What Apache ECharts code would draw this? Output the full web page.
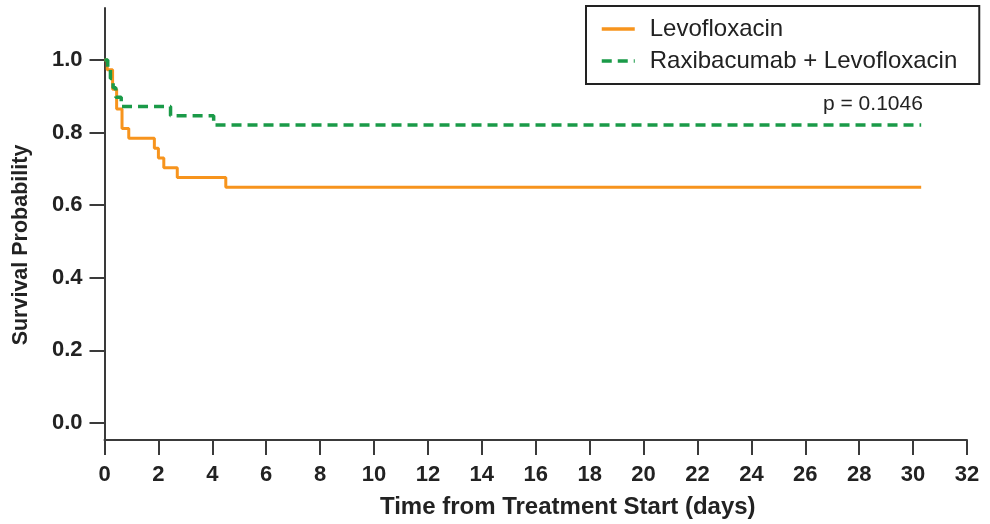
<!DOCTYPE html>
<html>
<head>
<meta charset="utf-8">
<script src="https://cdn.jsdelivr.net/npm/echarts@6/dist/echarts.min.js"></script>
<style>
html,body{margin:0;padding:0;background:#fff;}
#chart{width:990px;height:524px;}
</style>
</head>
<body>
<div id="chart"></div>
<script>
// Kaplan–Meier step data: [day, survival probability]
var levoTimes    = [0,   0.1,   0.3,   0.45,  0.65,  0.9,   1.85,  2.0,   2.2,   2.7,   4.5,   30.3];
var levoSurv     = [1.0, 0.973, 0.919, 0.865, 0.811, 0.784, 0.757, 0.730, 0.703, 0.676, 0.649, 0.649];
var raxiTimes    = [0,   0.12,  0.22,  0.32,  0.42,  0.62,  2.45,  4.05,  30.3];
var raxiSurv     = [1.0, 0.974, 0.949, 0.923, 0.897, 0.872, 0.846, 0.821, 0.821];
var seriesNames  = ['Levofloxacin', 'Raxibacumab + Levofloxacin'];
var yTicks       = [0, 0.2, 0.4, 0.6, 0.8, 1.0];
var pValueText   = 'p = 0.1046';

function pairs(t, s){ return t.map(function(v,i){ return [v, s[i]]; }); }

var chart = echarts.init(document.getElementById('chart'), null, {renderer:'canvas'});
var txt = '#222';
var axisCol = '#3a3a3a';
var font = 'Liberation Sans, Arial, Helvetica, sans-serif';

chart.setOption({
  animation:false,
  backgroundColor:'#fff',
  grid:{left:104.5, right:23, top:8, bottom:84, containLabel:false},
  legend:{
    orient:'vertical',
    left:586, top:6,
    padding:[9,22,9,14],
    itemGap:4,
    itemWidth:33, itemHeight:14,
    borderColor:'#222', borderWidth:2, borderRadius:0,
    itemStyle:{opacity:0},
    lineStyle:{width:3.5},
    textStyle:{fontFamily:font, fontSize:24, color:txt, padding:[0,0,0,10], lineHeight:28},
    data:seriesNames
  },
  xAxis:{
    type:'value', min:0, max:32, interval:2,
    name:'Time from Treatment Start (days)',
    nameLocation:'middle', nameGap:55,
    nameTextStyle:{fontFamily:font, fontSize:24, fontWeight:'bold', color:txt, padding:[0,0,0,64]},
    axisLine:{show:true, onZero:false, lineStyle:{color:axisCol, width:2}},
    axisTick:{show:true, length:15, lineStyle:{color:axisCol, width:2}},
    axisLabel:{fontFamily:font, fontSize:22, fontWeight:'bold', color:txt, margin:24},
    splitLine:{show:false}
  },
  yAxis:{
    type:'value', min:-0.047, max:1.143,
    name:'Survival Probability',
    nameLocation:'middle', nameGap:72, nameRotate:90,
    nameTextStyle:{fontFamily:font, fontSize:21.5, fontWeight:'bold', color:txt, padding:[0,42,0,0]},
    axisLine:{show:true, onZero:false, lineStyle:{color:axisCol, width:2}},
    axisTick:{show:true, length:15, customValues:yTicks, lineStyle:{color:axisCol, width:2}},
    axisLabel:{fontFamily:font, fontSize:22, fontWeight:'bold', color:txt, margin:22,
      customValues:yTicks, formatter:function(v){ return Number(v).toFixed(1); }},
    splitLine:{show:false}
  },
  graphic:[{
    type:'text', left:823, top:94,
    style:{text:pValueText, fontFamily:font, fontSize:21, fill:txt}
  }],
  series:[
    {
      name:seriesNames[0], type:'line', step:'end', symbol:'none',
      data:pairs(levoTimes, levoSurv),
      lineStyle:{color:'#F7941D', width:3},
      itemStyle:{color:'#F7941D'},
      z:3
    },
    {
      name:seriesNames[1], type:'line', step:'end', symbol:'none',
      data:pairs(raxiTimes, raxiSurv),
      lineStyle:{color:'#1A9A48', width:3.5, type:[10,6]},
      itemStyle:{color:'#1A9A48'},
      z:4
    }
  ]
});
</script>
</body>
</html>
